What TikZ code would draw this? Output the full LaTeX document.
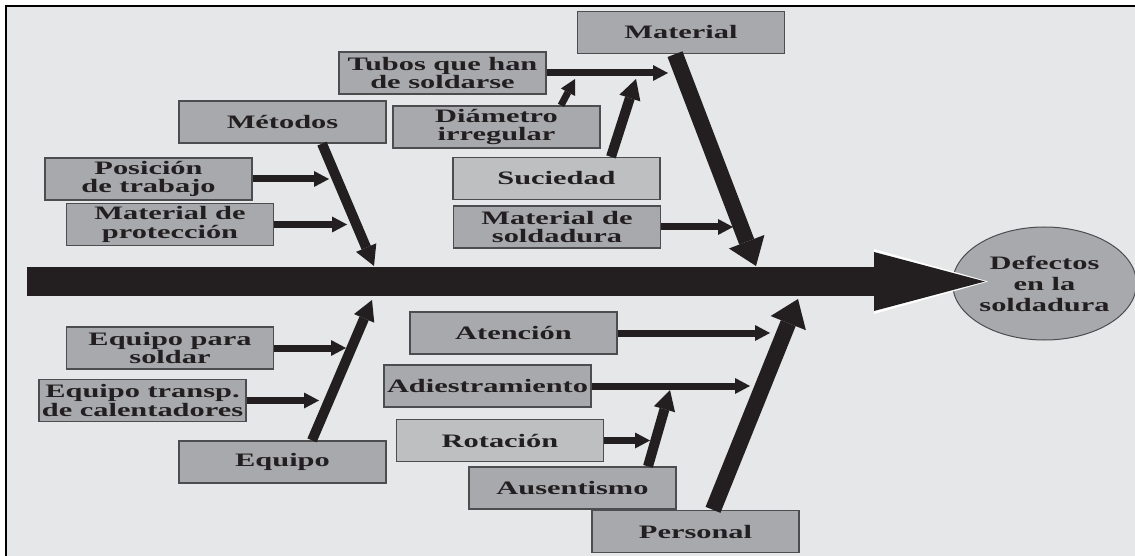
\documentclass[tikz,border=0pt]{standalone}
\usepackage{fontspec}
\setmainfont{Liberation Serif}[FakeStretch=1.6]
\usetikzlibrary{arrows.meta,shapes.geometric}

\definecolor{fondo}{HTML}{E6E7E8}
\definecolor{caja}{HTML}{A7A9AC}
\definecolor{cajaclara}{HTML}{BDBFC1}
\definecolor{borde}{HTML}{4D4D4F}
\definecolor{tinta}{HTML}{231F20}

\tikzset{
  causa/.style={draw=borde, line width=1.3pt, fill=caja, minimum width=207pt,
    minimum height=42pt, inner sep=1pt, align=center, text=tinta,
    font=\bfseries\fontsize{19}{18.5}\selectfont},
  clara/.style={causa, fill=cajaclara},
  ramita/.style={tinta, line width=7pt, -{Triangle[length=15pt,width=16pt,line width=0pt]}},
  espina/.style={tinta, line width=10pt, -{Triangle[length=20pt,width=22pt,line width=0pt]}},
  hueso/.style={tinta, line width=16pt, -{Triangle[length=26pt,width=38pt,line width=0pt]}},
}

\begin{document}
\begin{tikzpicture}[x=1pt, y=-1pt]
  \useasboundingbox (0,0) rectangle (1135,556);
  % fondo y marco
  \fill[white] (0,0) rectangle (1135,556);
  \fill[fondo] (6,6) rectangle (1135,556);
  \draw[line width=2pt] (6,556) -- (6,6) -- (1135,6);
  % efecto
  \node[ellipse, draw=borde, line width=1pt, fill=caja, minimum width=165pt,
    minimum height=113pt, inner sep=0pt, align=center, text=tinta,
    font=\bfseries\fontsize{19}{21}\selectfont] (efecto) at (1044.5,283.5) {Defectos\\en la\\soldadura};
  % espina central
  \coordinate (cola) at (27,281.5);
  \coordinate (punta) at (985,281.5);
  \coordinate (punta-b) at (988,281.5);
  \draw[white, line width=29pt, -{Triangle[length=114pt,width=65pt,line width=0pt]}] (cola) -- (punta-b);
  \draw[tinta, line width=29pt, -{Triangle[length=111pt,width=59pt,line width=0pt]}] (cola) -- (punta);
  % causas
  \foreach \nombre/\estilo/\x/\y/\texto in {
      material/causa/681/32.5/Material,
      tubos/causa/442.5/73/{Tubos que han\\de soldarse},
      metodos/causa/282.5/122/Métodos,
      diametro/causa/496.5/127/{Diámetro\\irregular},
      posicion/causa/148.5/179/{Posición\\de trabajo},
      suciedad/clara/556.5/178.5/Suciedad,
      matprot/causa/170/224.5/{Material de\\protección},
      matsold/causa/557/227/{Material de\\soldadura},
      atencion/causa/513.5/333/Atención,
      eqsoldar/causa/170/348/{Equipo para\\soldar},
      adiestr/causa/487.5/386/Adiestramiento,
      eqtransp/causa/142.5/400.5/{Equipo transp.\\de calentadores},
      rotacion/clara/500/440.5/Rotación,
      equipo/causa/282.5/462/Equipo,
      ausent/causa/572.5/488/Ausentismo,
      personal/causa/695.5/531.5/Personal} {
    \node[\estilo] (\nombre) at (\x,\y) {\texto};
  }
  % flechas horizontales
  \foreach \desde/\x in {tubos/668, posicion/329, matprot/347, matsold/733,
      atencion/770, eqsoldar/346, adiestr/750, eqtransp/319, rotacion/650} {
    \coordinate (\desde-f) at (\desde -| \x,0);
    \draw[ramita] (\desde) -- (\desde-f);
  }
  % espinas
  \coordinate (metodos-f) at (374,266);
  \coordinate (material-f) at (756,266);
  \coordinate (diametro-f) at (575,79);
  \coordinate (suciedad-f) at (636,79);
  \coordinate (equipo-f) at (372,300);
  \coordinate (ausent-f) at (670,390);
  \coordinate (personal-f) at (798,299);
  \draw[espina] ([xshift=39.5pt]metodos.south) -- (metodos-f);
  \draw[hueso] ([xshift=-6pt]material.south) -- (material-f);
  \draw[ramita] ([xshift=64.5pt]diametro.north) -- (diametro-f);
  \draw[espina] ([xshift=54.5pt]suciedad.north) -- (suciedad-f);
  \draw[espina] ([xshift=29.5pt]equipo.north) -- (equipo-f);
  \draw[espina] ([xshift=75.5pt]ausent.north) -- (ausent-f);
  \draw[hueso] ([xshift=17.5pt]personal.north) -- (personal-f);
\end{tikzpicture}
\end{document}
